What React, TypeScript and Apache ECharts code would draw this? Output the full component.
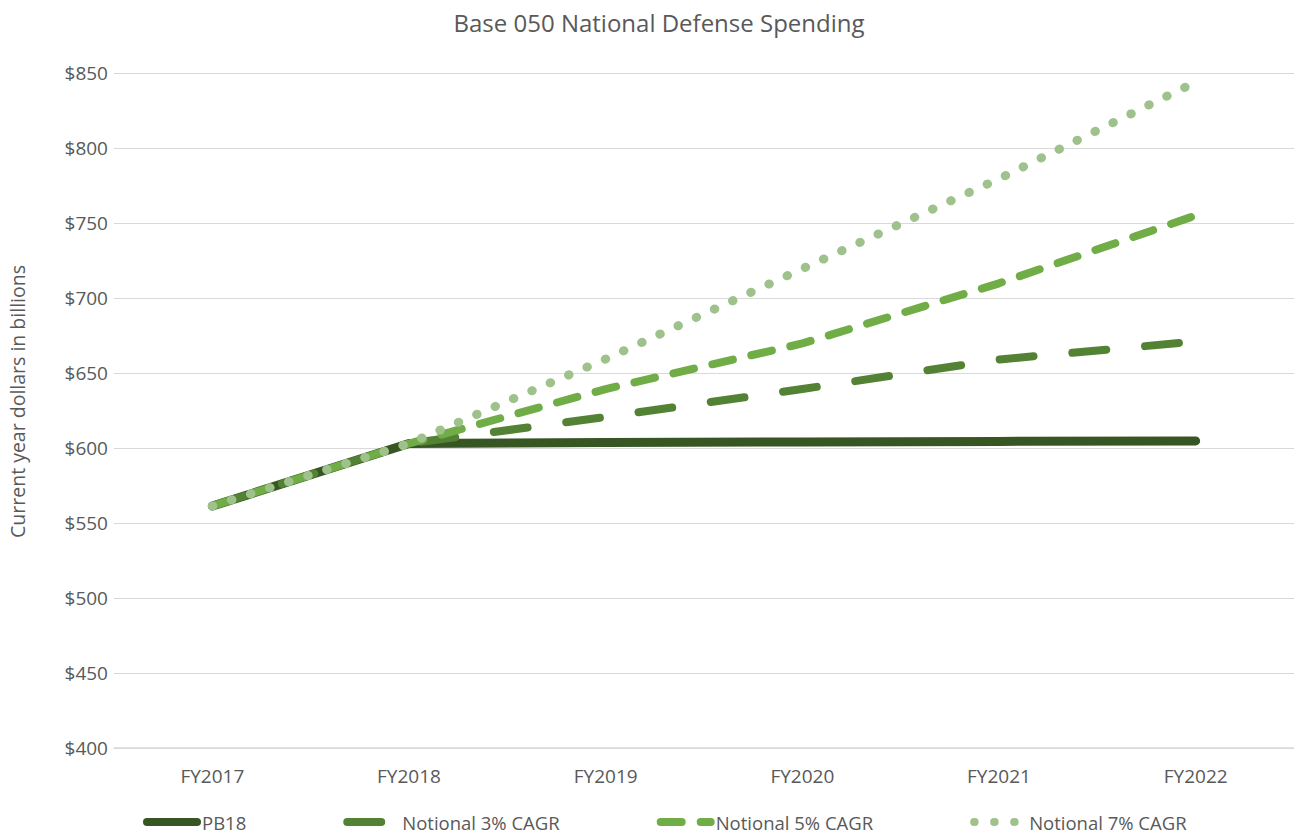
import React, { useEffect, useRef } from "react";
import * as echarts from "echarts";

const categories = ["FY2017", "FY2018", "FY2019", "FY2020", "FY2021", "FY2022"];
const pb18 = [561.3, 603.0, 603.6, 604.0, 604.4, 604.7];
const cagr3 = [561.3, 603.0, 620.7, 639.3, 659.0, 671.0];
const cagr5 = [561.3, 603.0, 639.3, 669.7, 709.8, 755.0];
const cagr7 = [561.3, 603.0, 659.3, 719.5, 779.5, 844.0];
const yTicks = { min: 400, max: 850, interval: 50 };

const FONT = "'Open Sans', sans-serif";
const GREY = "#595959";

export default function App() {
  const ref = useRef<HTMLDivElement>(null);
  useEffect(() => {
    if (!ref.current) return;
    const chart = echarts.init(ref.current, undefined, { renderer: "svg" });
    const mk = (name: string, data: number[], color: string, width: number, type: any, z: number) => ({
      name,
      type: "line",
      data,
      symbol: "none",
      showSymbol: false,
      z,
      lineStyle: { color, width, type, cap: "round", join: "round" },
      itemStyle: { color },
    });
    chart.setOption({
      animation: false,
      title: {
        text: "Base 050 National Defense Spending",
        left: 654,
        textAlign: "center",
        top: 5,
        textStyle: { fontFamily: FONT, fontSize: 24, fontWeight: "normal", color: GREY },
      },
      grid: { left: 114, right: 0, top: 73, bottom: 88, containLabel: false, outerBoundsMode: "none" },
      xAxis: {
        type: "category",
        data: categories,
        boundaryGap: true,
        axisLine: { lineStyle: { color: "#d9d9d9", width: 1.5 } },
        axisTick: { show: false },
        axisLabel: { margin: 18, color: GREY, fontFamily: FONT, fontSize: 19 },
      },
      yAxis: {
        type: "value",
        min: yTicks.min,
        max: yTicks.max,
        interval: yTicks.interval,
        name: "Current year dollars in billions",
        nameLocation: "middle",
        nameGap: 87,
        nameTextStyle: { fontFamily: FONT, fontSize: 19.5, color: GREY, padding: [0, 0, 0, 18] },
        axisLine: { show: false },
        axisTick: { show: false },
        axisLabel: {
          margin: 6,
          color: GREY,
          fontFamily: FONT,
          fontSize: 19,
          formatter: (v: number) => "$" + v,
        },
        splitLine: { lineStyle: { color: "#d9d9d9", width: 1 } },
      },
      legend: {
        data: ["PB18", "Notional 3% CAGR", "Notional 5% CAGR", "Notional 7% CAGR"],
        left: 138,
        top: 807,
        itemWidth: 50,
        itemHeight: 14,
        itemGap: 97,
        lineStyle: { width: 8 },
        itemStyle: { opacity: 0 },
        textStyle: { fontFamily: FONT, fontSize: 18.5, lineHeight: 20, color: GREY },
      },
      series: [
        mk("Notional 7% CAGR", cagr7, "#9fc28c", 9, [0.5, 19.5], 4),
        mk("Notional 5% CAGR", cagr5, "#70ad47", 8, [21, 19], 3),
        mk("Notional 3% CAGR", cagr3, "#548235", 8, [34, 39], 2),
        mk("PB18", pb18, "#375623", 9, "solid", 1),
      ],
    });
    return () => chart.dispose();
  }, []);
  return <div ref={ref} style={{ width: 1294, height: 836, position: "absolute", left: 0, top: 0 }} />;
}
